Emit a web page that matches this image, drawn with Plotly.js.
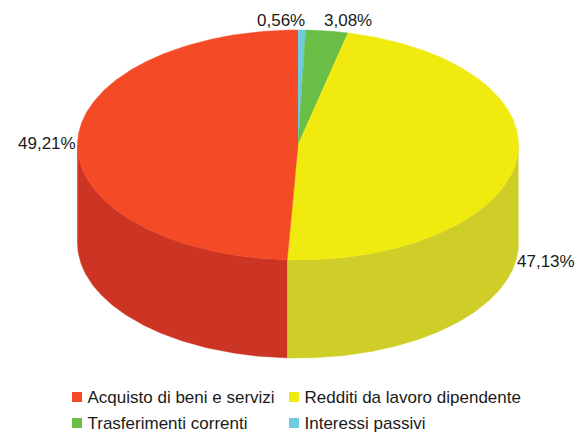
<!DOCTYPE html>
<html><head><meta charset="utf-8">
<script src="https://cdn.plot.ly/plotly-3.0.1.min.js"></script>
<style>html,body{margin:0;padding:0;background:#fff}#c{width:578px;height:433px}</style>
</head><body><div id="c"></div>
<script>
const categories = ["Interessi passivi","Trasferimenti correnti","Redditi da lavoro dipendente","Acquisto di beni e servizi"];
const values = [0.56,3.08,47.13,49.21];
const labels = ["0,56%","3,08%","47,13%","49,21%"];
const topColors = ["#6DCCDD","#6ABD45","#F1EA0E","#F44A25"];
const sideColors = ["#5BAAB8","#58A039","#CFCE28","#CC3524"];

const legendOrder = [3,2,1,0];
const legendPos = [[77,397],[294,397],[77,423],[294,423]];
const labelPos = [[257,22],[324,22],[517,263],[18,145]];

const G = {cx:298, cy:145, rx:220.5, ry:115, depth:98};
const font = {family:"'Liberation Sans', Arial, sans-serif", size:17, color:"#1a1a1a"};

function pt(a, dy){ return [G.cx + G.rx*Math.sin(a), G.cy - G.ry*Math.cos(a) + (dy||0)]; }
function arc(a0, a1, dy){
  const n = Math.max(2, Math.ceil(Math.abs(a1-a0)/0.01)), out = [];
  for(let i=0;i<=n;i++) out.push(pt(a0+(a1-a0)*i/n, dy));
  return out;
}
const total = values.reduce((s,v)=>s+v,0);
let acc = 0;
const spans = values.map(v=>{const a0=acc/total*2*Math.PI; acc+=v; return [a0, acc/total*2*Math.PI];});
const traces = [];
function poly(points, color){
  traces.push({type:"scatter", mode:"lines", x:points.map(p=>p[0]), y:points.map(p=>p[1]),
    fill:"toself", fillcolor:color, line:{color:color,width:0.5}, hoverinfo:"skip", showlegend:false});
}
// side walls: only the front half of the ellipse (PI/2 .. 3PI/2) is visible
spans.forEach((s,i)=>{
  const a0=Math.max(s[0],Math.PI/2), a1=Math.min(s[1],1.5*Math.PI);
  if(a1>a0) poly(arc(a0,a1,0).concat(arc(a1,a0,G.depth)), sideColors[i]);
});
// top faces
spans.forEach((s,i)=>{ poly([[G.cx,G.cy]].concat(arc(s[0],s[1],0)), topColors[i]); });
// percent labels
traces.push({type:"scatter", mode:"text", x:labelPos.map(p=>p[0]), y:labelPos.map(p=>p[1]),
  text:labels, textposition:"middle right", textfont:font, hoverinfo:"skip", showlegend:false, cliponaxis:false});
// legend
traces.push({type:"scatter", mode:"markers", x:legendPos.map(p=>p[0]), y:legendPos.map(p=>p[1]),
  marker:{symbol:"square", size:10, color:legendOrder.map(i=>topColors[i])}, hoverinfo:"skip", showlegend:false});
traces.push({type:"scatter", mode:"text", x:legendPos.map(p=>p[0]+10.5), y:legendPos.map(p=>p[1]+2),
  text:legendOrder.map(i=>categories[i]), textposition:"middle right", textfont:font, hoverinfo:"skip", showlegend:false, cliponaxis:false});

Plotly.newPlot("c", traces, {
  width:578, height:433, margin:{l:0,r:0,t:0,b:0}, paper_bgcolor:"#fff", plot_bgcolor:"#fff", showlegend:false,
  xaxis:{range:[0,578], visible:false, fixedrange:true},
  yaxis:{range:[433,0], visible:false, fixedrange:true}
},{displayModeBar:false, staticPlot:true});
</script></body></html>
